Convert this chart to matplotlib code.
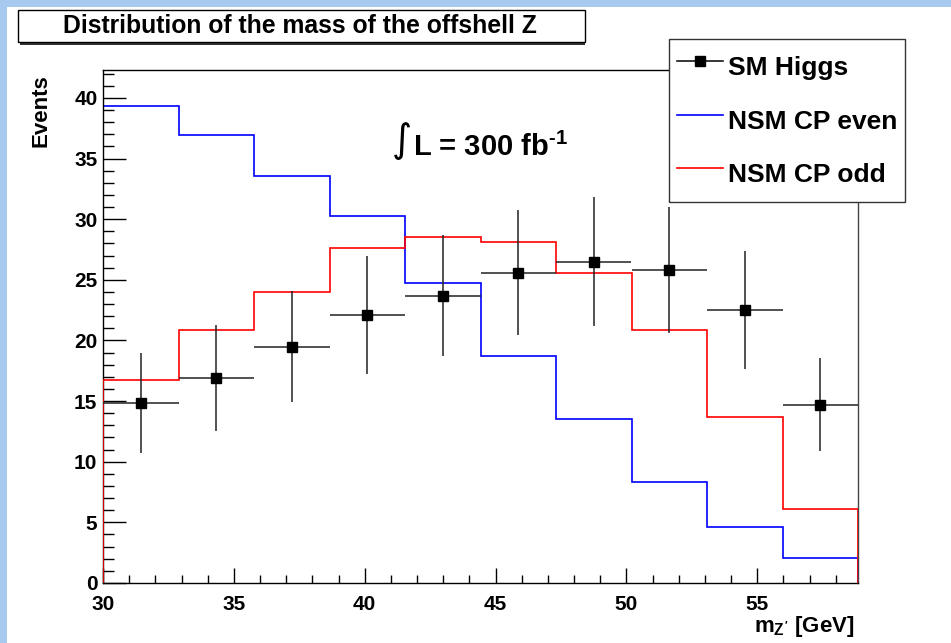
import numpy as np
import matplotlib
matplotlib.use("Agg")
import matplotlib.pyplot as plt
from matplotlib.lines import Line2D
from matplotlib.patches import Rectangle
from matplotlib.ticker import MultipleLocator

# histogram binning and contents
edges = np.linspace(30, 58.85, 11)
cp_even = [39.3, 36.9, 33.6, 30.3, 24.7, 18.7, 13.5, 8.3, 4.6, 2.05]
cp_odd = [16.7, 20.9, 24.0, 27.6, 28.5, 28.15, 25.6, 20.9, 13.7, 6.1]
sm_higgs = [14.85, 16.9, 19.5, 22.1, 23.7, 25.6, 26.5, 25.8, 22.5, 14.7]
sm_err = [4.15, 4.4, 4.6, 4.9, 5.0, 5.15, 5.3, 5.2, 4.85, 3.85]
labels = ['SM Higgs', 'NSM CP even', 'NSM CP odd']

plt.rcParams['font.family'] = ['Liberation Sans', 'DejaVu Sans']
plt.rcParams['font.weight'] = 'bold'
plt.rcParams['mathtext.fontset'] = 'custom'
plt.rcParams['mathtext.rm'] = 'Liberation Sans:bold'
plt.rcParams['mathtext.it'] = 'Liberation Sans:bold'
plt.rcParams['mathtext.bf'] = 'Liberation Sans:bold'

W, H = 951, 643


def fx(x):
    return x / W


def fy(y):
    return 1 - y / H


fig = plt.figure(figsize=(9.51, 6.43), dpi=100)
fig.patch.set_facecolor('white')

# ROOT canvas bevel (top and left)
bev = '#a6c9f0'
fig.patches.append(Rectangle((0, fy(7)), 1, 7 / H, transform=fig.transFigure,
                             facecolor=bev, edgecolor='none', zorder=0))
fig.patches.append(Rectangle((0, 0), fx(7), 1, transform=fig.transFigure,
                             facecolor=bev, edgecolor='none', zorder=0))

ax = fig.add_axes([fx(103), fy(583), fx(858 - 103), (583 - 70) / H])

centers = 0.5 * (edges[:-1] + edges[1:])
half = 0.5 * np.diff(edges)

ax.stairs(cp_even, edges, baseline=0, color='#0000ff', lw=1.2, zorder=2)
ax.stairs(cp_odd, edges, baseline=0, color='#ff0000', lw=1.2, zorder=3)
ax.errorbar(centers, sm_higgs, xerr=half, yerr=sm_err, fmt='s', color='black',
            ecolor='#222222', elinewidth=1.1, markersize=6.8, capsize=0, zorder=4)

ax.set_xlim(30, 58.85)
ax.set_ylim(0, 42.3)
ax.xaxis.set_major_locator(MultipleLocator(5))
ax.xaxis.set_minor_locator(MultipleLocator(1))
ax.yaxis.set_major_locator(MultipleLocator(5))
ax.yaxis.set_minor_locator(MultipleLocator(1))
ax.tick_params(axis='both', which='both', direction='in', top=False, right=False,
               labelsize=15)
ax.tick_params(axis='y', which='major', length=16.5, width=1, pad=4)
ax.tick_params(axis='y', which='minor', length=8, width=1)
ax.tick_params(axis='x', which='major', length=11, width=1, pad=9)
ax.tick_params(axis='x', which='minor', length=5.7, width=1)
for s in ax.spines.values():
    s.set_linewidth(1.0)
ax.spines['right'].set_color('#444444')

ax.set_ylabel('Events', fontsize=16, fontweight='bold', va='center', ha='right')
ax.yaxis.set_label_coords(-0.082, 0.992)
ax.set_xlabel(r"m$_{Z'}$ [GeV]", fontsize=16, fontweight='bold', ha='right', va='center')
ax.xaxis.set_label_coords(0.995, -0.084)

# luminosity label
ax.text(0.396, 0.862, '\u222b', transform=ax.transAxes, fontsize=28,
        family='DejaVu Sans', fontweight='normal', ha='center', va='center')
ax.text(0.41, 0.85, r"L = 300 fb$^{\text{-1}}$", transform=ax.transAxes,
        fontsize=21, fontweight='bold', ha='left', va='center')

# title box with shadow
fig.patches.append(Rectangle((fx(20), fy(44.5)), fx(565), 32 / H, transform=fig.transFigure,
                             facecolor='#333333', edgecolor='none', zorder=5))
fig.patches.append(Rectangle((fx(17.5), fy(42)), fx(567), 32 / H, transform=fig.transFigure,
                             facecolor='white', edgecolor='black', lw=1, zorder=6))
fig.text(fx(300), fy(26), 'Distribution of the mass of the offshell Z', fontsize=17.8,
         fontweight='bold', ha='center', va='center', zorder=7)

handles = [
    Line2D([], [], color='black', marker='s', markersize=6.8, lw=1.1),
    Line2D([], [], color='#0000ff', lw=1.2),
    Line2D([], [], color='#ff0000', lw=1.2),
]
leg = fig.legend(handles, labels, loc='upper left',
                 bbox_to_anchor=(fx(669), fy(199), fx(236), 160 / H),
                 bbox_transform=fig.transFigure, mode='expand',
                 fontsize=19, frameon=True, fancybox=False, framealpha=1,
                 edgecolor='#333333', borderpad=0.32, labelspacing=0.54,
                 handleheight=1.9, handlelength=1.72, handletextpad=0.2,
                 borderaxespad=0)
leg.get_frame().set_linewidth(1.0)
leg.set_zorder(8)

fig.savefig('out.png', dpi=100, facecolor=fig.get_facecolor())
